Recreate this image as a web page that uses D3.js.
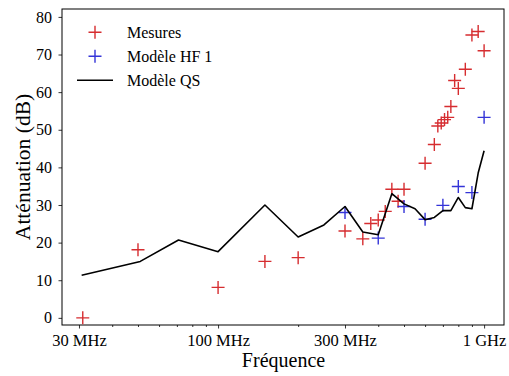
<!DOCTYPE html>
<html><head><meta charset="utf-8">
<script src="https://cdn.jsdelivr.net/npm/d3@7"></script>
<style>body{margin:0;background:#fff}svg{display:block}svg text{font-family:"Liberation Serif","Times New Roman",serif !important;fill:#000}</style>
</head><body><svg id="c" width="509" height="376"></svg>
<script>
const mesFreq = [31, 50, 100, 150, 200, 300, 350, 375, 400, 425, 450, 475, 500, 600, 650, 670, 690, 710, 730, 750, 775, 800, 850, 900, 950, 1000];
const mesVal  = [0, 18.1, 8.1, 15.0, 16.0, 23.1, 21.0, 25.1, 26.0, 28.3, 34.2, 31.0, 34.2, 41.1, 46.1, 51.0, 51.8, 52.7, 53.3, 56.2, 63.1, 61.0, 66.1, 75.2, 76.1, 71.0];
const hfFreq = [300, 400, 500, 600, 700, 800, 900, 1000];
const hfVal  = [28.0, 21.2, 29.6, 26.2, 29.9, 34.9, 33.3, 53.3];
const qsFreq = [30.7, 51, 71, 100, 150, 200, 250, 300, 350, 400, 450, 500, 550, 600, 650, 700, 750, 800, 850, 900, 950, 1000];
const qsVal  = [11.3, 15.0, 20.7, 17.6, 30.0, 21.5, 24.7, 29.6, 22.8, 22.1, 33.0, 30.3, 29.0, 26.1, 26.7, 28.5, 28.5, 32.0, 29.3, 29.0, 38.5, 44.4];
const xTicks = [30, 100, 300, 1000];
const xTickLabels = ["30 MHz", "100 MHz", "300 MHz", "1 GHz"];
const xMinorTicks = [40, 50, 60, 70, 80, 90, 200, 400, 500, 600, 700, 800, 900];
const yTicks = [0, 10, 20, 30, 40, 50, 60, 70, 80];
const legendLabels = ["Mesures", "Modèle HF 1", "Modèle QS"];

const FONT = "Liberation Serif";
const red = "#d62d30", blue = "#3434d8";
const svg = d3.select("#c");
const L = 62, R = 504, T = 9, B = 325;
const x = d3.scaleLog().domain([25.9, 1188]).range([L, R]);
const y = d3.scaleLinear().domain([-1.9, 82.1]).range([B, T]);

const gx = svg.append("g").attr("transform", `translate(0,${B})`);
gx.call(d3.axisBottom(x).tickValues(xTicks).tickFormat((d,i) => xTickLabels[i]).tickSize(3.5));
gx.append("g").call(d3.axisBottom(x).tickValues(xMinorTicks).tickFormat("").tickSize(2));
gx.selectAll(".domain").remove();
gx.selectAll(".tick text").attr("y", 21).attr("dy", 0).attr("font-size", 16.5);
const gy = svg.append("g").attr("transform", `translate(${L},0)`);
gy.call(d3.axisLeft(y).tickValues(yTicks).tickSize(3.5).tickPadding(6.5));
gy.selectAll(".domain").remove();
gy.selectAll(".tick text").attr("font-size", 16);
svg.selectAll("g").attr("font-family", FONT);
svg.selectAll(".tick line").attr("stroke", "#000").attr("stroke-width", 0.8);

svg.append("rect").attr("x", L).attr("y", T).attr("width", R - L).attr("height", B - T)
  .attr("fill", "none").attr("stroke", "#000").attr("stroke-width", 1);

function plus(g, cx, cy, color) {
  const s = 6.5;
  g.append("path").attr("d", `M${cx - s},${cy}H${cx + s}M${cx},${cy - s}V${cy + s}`)
    .attr("stroke", color).attr("stroke-width", 1.4).attr("fill", "none");
}
const gm = svg.append("g");
mesFreq.forEach((f, i) => plus(gm, x(f), y(mesVal[i]), red));
hfFreq.forEach((f, i) => plus(gm, x(f), y(hfVal[i]), blue));
const line = d3.line().x(d => x(d[0])).y(d => y(d[1]));
svg.append("path").datum(qsFreq.map((f, i) => [f, qsVal[i]])).attr("d", line)
  .attr("fill", "none").attr("stroke", "#000").attr("stroke-width", 1.6).attr("stroke-linejoin", "round");

const lg = svg.append("g");
const rows = [32.3, 56.3, 80.3];
plus(lg, 95, rows[0], red);
plus(lg, 95, rows[1], blue);
lg.append("line").attr("x1", 77).attr("x2", 113).attr("y1", rows[2]).attr("y2", rows[2]).attr("stroke", "#000").attr("stroke-width", 1.6);
legendLabels.forEach((t, i) => lg.append("text").attr("x", 127).attr("y", rows[i]).attr("dy", "0.35em").attr("font-size", 16).attr("font-family", FONT).text(t));

svg.append("text").attr("x", 283.5).attr("y", 367).attr("text-anchor", "middle").attr("font-size", 20).attr("font-family", FONT).text("Fréquence");
svg.append("text").attr("transform", `translate(30,${(T + B) / 2}) rotate(-90)`).attr("text-anchor", "middle").attr("font-size", 21.5).attr("font-family", FONT).text("Atténuation (dB)");
</script></body></html>
